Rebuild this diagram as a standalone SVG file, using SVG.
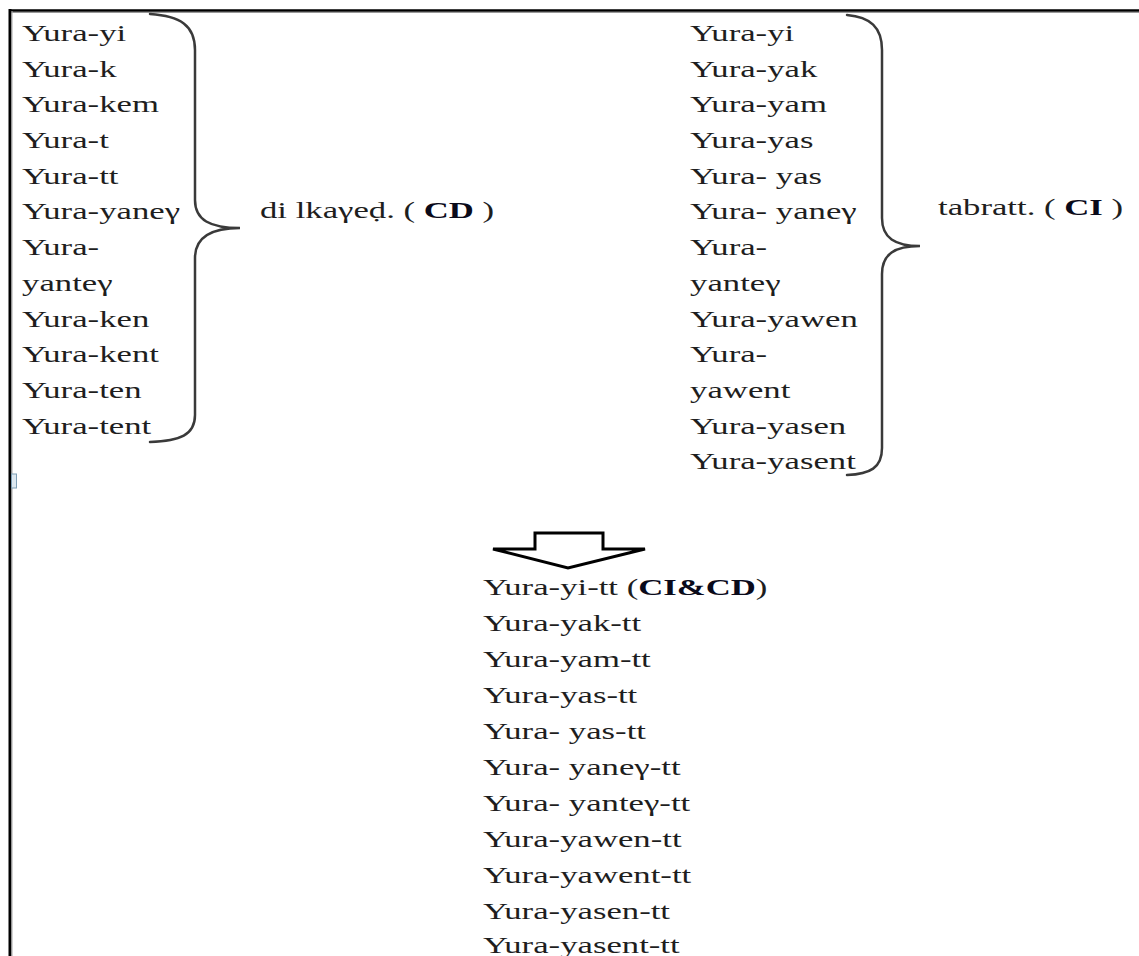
<svg xmlns="http://www.w3.org/2000/svg" width="1139" height="956" viewBox="0 0 1139 956">
<style>
.t{font-family:"Liberation Serif","Times New Roman",serif;font-size:23px;fill:#1e1e1e}
.b{font-weight:bold;fill:#0a0a1a}
.brace{fill:none;stroke:#3a3a3a;stroke-width:2.5;stroke-linecap:round}
</style>
<rect width="1139" height="956" fill="#fff"/>
<g id="frame">
<line x1="9" y1="10.5" x2="1139" y2="10.5" stroke="#000" stroke-width="2.5"/>
<line x1="9" y1="12.5" x2="1139" y2="12.5" stroke="#999" stroke-width="1"/>
<line x1="10" y1="9" x2="10" y2="956" stroke="#000" stroke-width="3"/>
<line x1="12" y1="11" x2="12" y2="956" stroke="#aaa" stroke-width="1"/>
<rect x="11.5" y="474" width="5" height="14" fill="#dde8f0" stroke="#7f9fb5" stroke-width="1"/>
</g>
<g id="connectors">
<path class="brace" d="M150,14 C180,16 195,25 195,50 L195,200 C195,220 210,228 240,228 C210,228 195,238 195,258 L195,415 C195,435 180,441 150,442"/>
<path class="brace" d="M847,15 C870,17 882,27 882,50 L882,218 C882,238 895,246 920,246 C895,246 882,254 882,274 L882,448 C882,468 870,474 847,475"/>
<polygon points="535,533 603,533 603,549 645,549 568,568 493,549 535,549" fill="#fff" stroke="#000" stroke-width="3" stroke-linejoin="miter"/>
</g>
<g transform="scale(1.51,1)">
<g id="left-list" class="t">
<text x="14.6" y="41">Yura-yi</text>
<text x="14.6" y="76.7">Yura-k</text>
<text x="14.6" y="112.4">Yura-kem</text>
<text x="14.6" y="148.1">Yura-t</text>
<text x="14.6" y="183.8">Yura-tt</text>
<text x="14.6" y="219.5">Yura-yaneγ</text>
<text x="14.6" y="255.2">Yura-</text>
<text x="14.6" y="290.9">yanteγ</text>
<text x="14.6" y="326.6">Yura-ken</text>
<text x="14.6" y="362.3">Yura-kent</text>
<text x="14.6" y="398">Yura-ten</text>
<text x="14.6" y="433.7">Yura-tent</text>
</g>
<g id="left-label" class="t">
<text x="172.2" y="218">di lkaγeḍ. ( <tspan class="b">CD</tspan> )</text>
</g>
<g id="right-list" class="t">
<text x="457" y="41">Yura-yi</text>
<text x="457" y="76.7">Yura-yak</text>
<text x="457" y="112.4">Yura-yam</text>
<text x="457" y="148.1">Yura-yas</text>
<text x="457" y="183.8">Yura- yas</text>
<text x="457" y="219.5">Yura- yaneγ</text>
<text x="457" y="255.2">Yura-</text>
<text x="457" y="290.9">yanteγ</text>
<text x="457" y="326.6">Yura-yawen</text>
<text x="457" y="362.3">Yura-</text>
<text x="457" y="398">yawent</text>
<text x="457" y="433.7">Yura-yasen</text>
<text x="457" y="469.4">Yura-yasent</text>
</g>
<g id="right-label" class="t">
<text x="621.2" y="215">tabratt. ( <tspan class="b">CI</tspan> )</text>
</g>
<g id="result-list" class="t">
<text x="319.9" y="595">Yura-yi-tt (<tspan class="b">CI&amp;CD</tspan>)</text>
<text x="319.9" y="631">Yura-yak-tt</text>
<text x="319.9" y="667">Yura-yam-tt</text>
<text x="319.9" y="703">Yura-yas-tt</text>
<text x="319.9" y="739">Yura- yas-tt</text>
<text x="319.9" y="775">Yura- yaneγ-tt</text>
<text x="319.9" y="811">Yura- yanteγ-tt</text>
<text x="319.9" y="847">Yura-yawen-tt</text>
<text x="319.9" y="883">Yura-yawent-tt</text>
<text x="319.9" y="919">Yura-yasen-tt</text>
<text x="319.9" y="953">Yura-yasent-tt</text>
</g>
</g>
</svg>
